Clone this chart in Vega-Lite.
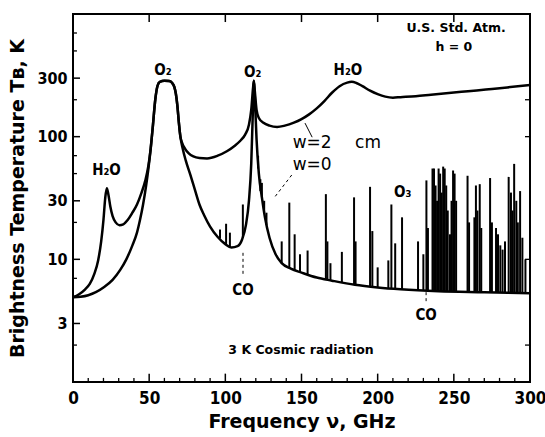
{
  "$schema": "https://vega.github.io/schema/vega-lite/v6.json",
  "width": 457,
  "height": 368,
  "autosize": {"type": "none"},
  "padding": {"left": 73, "top": 14, "right": 15, "bottom": 55},
  "background": "white",
  "config": {
    "view": {"stroke": "black", "strokeWidth": 2},
    "axis": {"domain": false, "grid": false, "ticks": false, "labelColor": "black", "titleColor": "black", "labelFlush": false, "labelOverlap": false}
  },
  "datasets": {
    "upper": [
      {"f":0,"T":4.9},{"f":4,"T":5.2},{"f":8,"T":5.7},{"f":11,"T":6.3},{"f":14,"T":7.6},{"f":16.5,"T":9.8},{"f":18.5,"T":14},{"f":20,"T":21},{"f":21.2,"T":32},{"f":22.2,"T":38},{"f":23.2,"T":34},{"f":24.5,"T":27},{"f":26,"T":22.5},{"f":28,"T":20},{"f":30.5,"T":19},{"f":33,"T":19.3},{"f":36,"T":21},{"f":39,"T":24},{"f":42,"T":28},{"f":45,"T":35},{"f":47.5,"T":44},{"f":49.5,"T":58},{"f":51,"T":80},{"f":52.5,"T":125},{"f":54,"T":200},{"f":55.5,"T":260},{"f":57,"T":280},{"f":60,"T":285},{"f":63,"T":284},{"f":65,"T":275},{"f":66.5,"T":255},{"f":67.5,"T":225},{"f":68.5,"T":180},{"f":69.5,"T":130},{"f":70.5,"T":100},{"f":71.5,"T":90},{"f":73.5,"T":80},{"f":76,"T":73},{"f":79,"T":69},{"f":83,"T":67},{"f":88,"T":66.5},{"f":95,"T":70},{"f":101,"T":76},{"f":106,"T":84},{"f":110,"T":93},{"f":113,"T":104},{"f":115.5,"T":125},{"f":117,"T":165},{"f":118.2,"T":250},{"f":118.75,"T":285},{"f":119.3,"T":240},{"f":120.5,"T":165},{"f":122,"T":142},{"f":125,"T":130},{"f":129,"T":123},{"f":134,"T":120},{"f":139,"T":123},{"f":145,"T":130},{"f":150,"T":139},{"f":155,"T":152},{"f":160,"T":170},{"f":165,"T":195},{"f":170,"T":228},{"f":175,"T":258},{"f":180,"T":276},{"f":183,"T":280},{"f":186,"T":274},{"f":190,"T":258},{"f":195,"T":237},{"f":200,"T":222},{"f":205,"T":212},{"f":210,"T":208},{"f":215,"T":210},{"f":225,"T":214},{"f":235,"T":220},{"f":245,"T":226},{"f":255,"T":232},{"f":265,"T":238},{"f":275,"T":245},{"f":285,"T":252},{"f":300,"T":264}
    ],
    "lower": [
      {"f":0,"T":4.9},{"f":5,"T":4.95},{"f":10,"T":5.1},{"f":15,"T":5.4},{"f":20,"T":5.9},{"f":26,"T":6.8},{"f":31,"T":8.2},{"f":35,"T":10},{"f":39,"T":13},{"f":42,"T":16.5},{"f":44,"T":21},{"f":46,"T":28},{"f":48,"T":40},{"f":49.5,"T":55},{"f":51,"T":80},{"f":52.5,"T":125},{"f":54,"T":200},{"f":55.5,"T":260},{"f":57,"T":280},{"f":60,"T":285},{"f":63,"T":284},{"f":65,"T":275},{"f":66.5,"T":255},{"f":67.5,"T":225},{"f":68.5,"T":180},{"f":69.5,"T":130},{"f":70.5,"T":100},{"f":72,"T":80},{"f":74,"T":64},{"f":77,"T":49},{"f":80,"T":37},{"f":83,"T":28},{"f":86,"T":23},{"f":90,"T":18.5},{"f":95,"T":15.2},{"f":100,"T":13.3},{"f":104,"T":12.5},{"f":108,"T":12.8},{"f":111,"T":14.5},{"f":113.5,"T":19},{"f":115.5,"T":30},{"f":117,"T":60},{"f":118,"T":150},{"f":118.75,"T":285},{"f":119.5,"T":190},{"f":120.5,"T":95},{"f":122,"T":50},{"f":124,"T":32},{"f":126,"T":22},{"f":129,"T":15},{"f":133,"T":11},{"f":137,"T":9.3},{"f":143,"T":8.4},{"f":150,"T":7.8},{"f":160,"T":7.1},{"f":170,"T":6.7},{"f":185,"T":6.2},{"f":200,"T":5.9},{"f":215,"T":5.7},{"f":240,"T":5.5},{"f":270,"T":5.4},{"f":300,"T":5.3}
    ],
    "speclines": [
      {"f":96.5,"lo":14.8,"hi":17.5},{"f":100.5,"lo":13.2,"hi":19.5},{"f":103,"lo":12.6,"hi":16.5},{"f":111.5,"lo":15,"hi":28},{"f":121.5,"lo":55,"hi":70},{"f":123,"lo":36,"hi":45},{"f":124,"lo":32,"hi":42},{"f":125.5,"lo":24,"hi":30},{"f":127,"lo":19,"hi":24},{"f":137,"lo":9.3,"hi":14},{"f":142,"lo":8.5,"hi":29},{"f":145.5,"lo":8.2,"hi":16},{"f":149,"lo":7.9,"hi":11},{"f":154,"lo":7.5,"hi":11.8},{"f":166,"lo":6.8,"hi":34},{"f":167,"lo":6.8,"hi":14},{"f":169,"lo":6.75,"hi":9.3},{"f":176.5,"lo":6.5,"hi":11.5},{"f":184.5,"lo":6.2,"hi":32},{"f":185.5,"lo":6.2,"hi":14},{"f":195,"lo":6.0,"hi":39},{"f":196.5,"lo":6.0,"hi":17},{"f":200,"lo":5.9,"hi":8.6},{"f":207,"lo":5.8,"hi":9.8},{"f":209,"lo":5.8,"hi":28},{"f":211.5,"lo":5.75,"hi":13.5},{"f":216,"lo":5.7,"hi":22},{"f":226.5,"lo":5.6,"hi":14},{"f":230,"lo":5.6,"hi":11},{"f":232,"lo":5.6,"hi":44},{"f":233,"lo":5.6,"hi":18},{"f":236,"lo":5.55,"hi":55},{"f":237,"lo":5.55,"hi":55},{"f":238,"lo":5.5,"hi":40},{"f":239,"lo":5.5,"hi":30},{"f":240,"lo":5.5,"hi":55},{"f":241,"lo":5.5,"hi":50},{"f":242,"lo":5.5,"hi":35},{"f":243,"lo":5.5,"hi":57},{"f":244,"lo":5.5,"hi":55},{"f":245,"lo":5.5,"hi":40},{"f":246,"lo":5.5,"hi":25},{"f":247.5,"lo":5.5,"hi":16},{"f":248.5,"lo":5.5,"hi":30},{"f":249.5,"lo":5.5,"hi":53},{"f":250.5,"lo":5.5,"hi":50},{"f":251.5,"lo":5.5,"hi":30},{"f":259,"lo":5.45,"hi":48},{"f":260,"lo":5.45,"hi":20},{"f":263.5,"lo":5.4,"hi":22},{"f":264.5,"lo":5.4,"hi":40},{"f":265.5,"lo":5.4,"hi":25},{"f":267,"lo":5.4,"hi":41},{"f":268,"lo":5.4,"hi":18},{"f":273.8,"lo":5.4,"hi":46},{"f":275,"lo":5.4,"hi":20},{"f":277.7,"lo":5.4,"hi":18},{"f":279,"lo":5.4,"hi":16},{"f":280.5,"lo":5.4,"hi":13},{"f":282,"lo":5.35,"hi":12},{"f":283.6,"lo":5.35,"hi":14},{"f":286,"lo":5.35,"hi":47},{"f":287.5,"lo":5.35,"hi":35},{"f":288.5,"lo":5.35,"hi":25},{"f":289.6,"lo":5.35,"hi":60},{"f":291,"lo":5.35,"hi":30},{"f":292,"lo":5.3,"hi":20},{"f":293.5,"lo":5.3,"hi":36},{"f":295,"lo":5.3,"hi":15},{"f":297,"lo":5.3,"hi":10}
    ],
    "molecules": [
      {"f":59,"T":350,"text":"O₂"},{"f":118,"T":336,"text":"O₂"},{"f":180.5,"T":350,"text":"H₂O"},{"f":22,"T":53.5,"text":"H₂O"},{"f":216.5,"T":35.4,"text":"O₃"},{"f":111.6,"T":5.6,"text":"CO"},{"f":231.8,"T":3.5,"text":"CO"}
    ],
    "wlabels": [
      {"f":157,"T":89,"text":"w=2"},{"f":193.7,"T":89,"text":"cm"},{"f":157,"T":58.8,"text":"w=0"}
    ],
    "info": [
      {"f":251.5,"T":769,"text":"U.S. Std. Atm."},{"f":250,"T":538,"text":"h = 0"},{"f":149.7,"T":1.82,"text":"3 K Cosmic radiation"}
    ],
    "solidleaders": [
      {"f":152.3,"f2":157,"T":129,"T2":99}
    ],
    "dashleaders": [
      {"f":143.6,"f2":132.6,"T":48.7,"T2":32.4},{"f":111.6,"f2":111.6,"T":11.3,"T2":7.2},{"f":231.8,"f2":231.8,"T":5.4,"T2":4.4}
    ],
    "xmajor": [{"f":50},{"f":100},{"f":150},{"f":200},{"f":250}],
    "xminor": [{"f":10},{"f":20},{"f":30},{"f":40},{"f":60},{"f":70},{"f":80},{"f":90},{"f":110},{"f":120},{"f":130},{"f":140},{"f":160},{"f":170},{"f":180},{"f":190},{"f":210},{"f":220},{"f":230},{"f":240},{"f":260},{"f":270},{"f":280},{"f":290}],
    "ymajor": [{"T":3},{"T":10},{"T":30},{"T":100},{"T":300}],
    "yminor": [{"T":2},{"T":5},{"T":7},{"T":20},{"T":50},{"T":70},{"T":200},{"T":500},{"T":700}],
    "yright": [{"T":2},{"T":10},{"T":100},{"T":200}]
  },
  "resolve": {"axis": {"x": "independent", "y": "independent"}},
  "layer": [
    {
      "data": {"name": "upper"},
      "mark": {"type": "line", "color": "black", "strokeWidth": 2.5, "interpolate": "monotone"},
      "encoding": {
        "x": {"field": "f", "type": "quantitative", "scale": {"domain": [0, 300], "nice": false, "zero": false},
          "axis": {"orient": "bottom", "values": [0,50,100,150,200,250,300],
            "labelFont": "Liberation Sans Narrow, DejaVu Sans Condensed, sans-serif", "labelFontSize": 17, "labelFontWeight": "bold", "labelPadding": 8,
            "title": "Frequency ν,  GHz", "titleFont": "DejaVu Sans", "titleFontSize": 19, "titleFontWeight": "bold", "titlePadding": 6}},
        "y": {"field": "T", "type": "quantitative", "scale": {"type": "log", "domain": [1, 1000], "nice": false},
          "axis": {"orient": "left", "values": [3,10,30,100,300], "labelExpr": "'' + datum.value",
            "labelFont": "Liberation Sans Narrow, DejaVu Sans Condensed, sans-serif", "labelFontSize": 16, "labelFontWeight": "bold", "labelPadding": 6,
            "title": "Brightness Temperature Tʙ,  K", "titleFont": "DejaVu Sans", "titleFontSize": 19, "titleFontWeight": "bold", "titlePadding": 9}}
      }
    },
    {
      "data": {"name": "lower"},
      "mark": {"type": "line", "color": "black", "strokeWidth": 2.5, "interpolate": "monotone"},
      "encoding": {
        "x": {"field": "f", "type": "quantitative", "axis": null},
        "y": {"field": "T", "type": "quantitative", "axis": null}
      }
    },
    {
      "data": {"name": "xmajor"},
      "mark": {"type": "rule", "color": "black", "strokeWidth": 1.5},
      "encoding": {"x": {"field": "f", "type": "quantitative", "axis": null}, "y": {"datum": 1, "type": "quantitative", "axis": null}, "y2": {"datum": 1.17}}
    },
    {
      "data": {"name": "xmajor"},
      "mark": {"type": "rule", "color": "black", "strokeWidth": 1.5},
      "encoding": {"x": {"field": "f", "type": "quantitative", "axis": null}, "y": {"datum": 1000, "type": "quantitative", "axis": null}, "y2": {"datum": 860}}
    },
    {
      "data": {"name": "xminor"},
      "mark": {"type": "rule", "color": "black", "strokeWidth": 1.3},
      "encoding": {"x": {"field": "f", "type": "quantitative", "axis": null}, "y": {"datum": 1, "type": "quantitative", "axis": null}, "y2": {"datum": 1.08}}
    },
    {
      "data": {"name": "ymajor"},
      "mark": {"type": "rule", "color": "black", "strokeWidth": 1.5},
      "encoding": {"y": {"field": "T", "type": "quantitative", "axis": null}, "x": {"datum": 0, "type": "quantitative", "axis": null}, "x2": {"datum": 4.6}}
    },
    {
      "data": {"name": "yminor"},
      "mark": {"type": "rule", "color": "black", "strokeWidth": 1.3},
      "encoding": {"y": {"field": "T", "type": "quantitative", "axis": null}, "x": {"datum": 0, "type": "quantitative", "axis": null}, "x2": {"datum": 2.6}}
    },
    {
      "data": {"name": "yright"},
      "mark": {"type": "rule", "color": "black", "strokeWidth": 1.3},
      "encoding": {"y": {"field": "T", "type": "quantitative", "axis": null}, "x": {"datum": 300, "type": "quantitative", "axis": null}, "x2": {"datum": 296.7}}
    },
    {
      "data": {"name": "speclines"},
      "mark": {"type": "rule", "color": "black", "strokeWidth": 2},
      "encoding": {
        "x": {"field": "f", "type": "quantitative", "axis": null},
        "y": {"field": "lo", "type": "quantitative", "axis": null},
        "y2": {"field": "hi"}
      }
    },
    {
      "mark": {"type": "rule", "color": "black", "strokeWidth": 2},
      "encoding": {"y": {"datum": 3, "type": "quantitative", "axis": null}}
    },
    {
      "data": {"name": "solidleaders"},
      "mark": {"type": "rule", "color": "black", "strokeWidth": 1},
      "encoding": {
        "x": {"field": "f", "type": "quantitative", "axis": null}, "x2": {"field": "f2"},
        "y": {"field": "T", "type": "quantitative", "axis": null}, "y2": {"field": "T2"}
      }
    },
    {
      "data": {"name": "dashleaders"},
      "mark": {"type": "rule", "color": "black", "strokeWidth": 1, "strokeDash": [3, 3]},
      "encoding": {
        "x": {"field": "f", "type": "quantitative", "axis": null}, "x2": {"field": "f2"},
        "y": {"field": "T", "type": "quantitative", "axis": null}, "y2": {"field": "T2"}
      }
    },
    {
      "data": {"name": "molecules"},
      "mark": {"type": "text", "font": "DejaVu Sans Condensed", "fontSize": 15, "fontWeight": "bold", "align": "center", "baseline": "middle", "color": "black"},
      "encoding": {
        "x": {"field": "f", "type": "quantitative", "axis": null},
        "y": {"field": "T", "type": "quantitative", "axis": null},
        "text": {"field": "text"}
      }
    },
    {
      "data": {"name": "wlabels"},
      "mark": {"type": "text", "font": "DejaVu Sans", "fontSize": 17, "align": "center", "baseline": "middle", "color": "black"},
      "encoding": {
        "x": {"field": "f", "type": "quantitative", "axis": null},
        "y": {"field": "T", "type": "quantitative", "axis": null},
        "text": {"field": "text"}
      }
    },
    {
      "data": {"name": "info"},
      "mark": {"type": "text", "font": "DejaVu Sans", "fontSize": 12.5, "fontWeight": "bold", "align": "center", "baseline": "middle", "color": "black"},
      "encoding": {
        "x": {"field": "f", "type": "quantitative", "axis": null},
        "y": {"field": "T", "type": "quantitative", "axis": null},
        "text": {"field": "text"}
      }
    }
  ]
}
